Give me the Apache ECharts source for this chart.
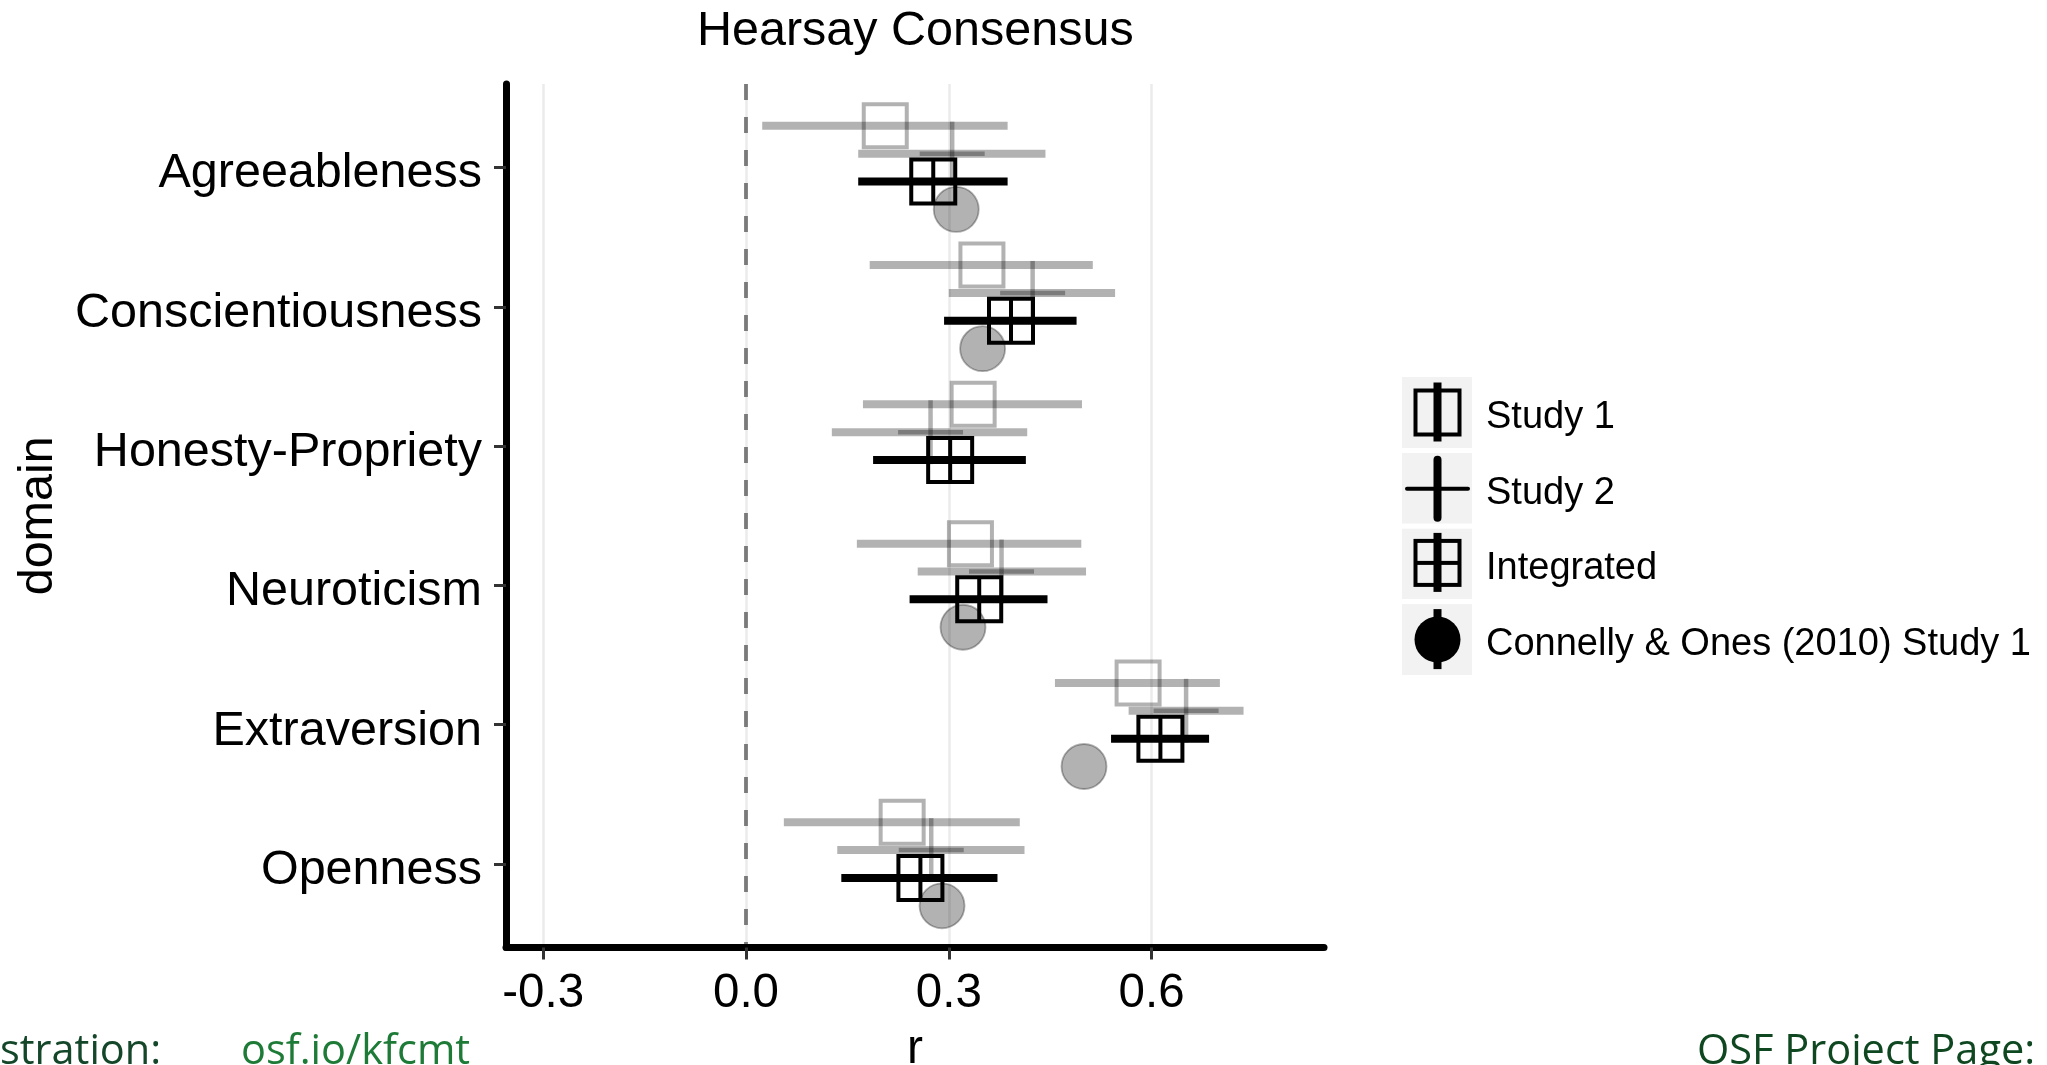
<!DOCTYPE html>
<html>
<head>
<meta charset="utf-8">
<script src="https://cdn.jsdelivr.net/npm/echarts@6/dist/echarts.min.js"></script>
<style>
html,body{margin:0;padding:0;background:#fff;}
#chart{width:2047px;height:1065px;}
</style>
</head>
<body>
<div id="chart"></div>
<script>
// ---- data ----
const domains = ['Agreeableness', 'Conscientiousness', 'Honesty-Propriety', 'Neuroticism', 'Extraversion', 'Openness'];
const study1 = [0.206, 0.349, 0.336, 0.332, 0.580, 0.231];
const study1Lo = [0.024, 0.183, 0.173, 0.164, 0.457, 0.056];
const study1Hi = [0.387, 0.513, 0.497, 0.496, 0.701, 0.405];
const study2 = [0.305, 0.424, 0.273, 0.378, 0.651, 0.274];
const study2Lo = [0.166, 0.300, 0.127, 0.254, 0.566, 0.135];
const study2Hi = [0.443, 0.546, 0.416, 0.503, 0.736, 0.412];
const integrated = [0.277, 0.392, 0.302, 0.345, 0.613, 0.258];
const integratedLo = [0.166, 0.293, 0.188, 0.242, 0.540, 0.141];
const integratedHi = [0.387, 0.489, 0.414, 0.446, 0.685, 0.372];
const connelly = [0.311, 0.350, null, 0.321, 0.500, 0.290];
const xTickValues = [-0.3, 0, 0.3, 0.6];
const seriesNames = ['Study 1', 'Study 2', 'Integrated', 'Connelly & Ones (2010) Study 1'];

// ---- styling ----
const FONT = "'Liberation Sans', Arial, Helvetica, sans-serif";
const GREY = 'rgba(0,0,0,0.3)';
const dodge = [-0.3, -0.1, 0.1, 0.3];

function rows(vals, lo, hi) {
  const out = [];
  vals.forEach((v, i) => {
    if (v === null || v === undefined) return;
    out.push([i, v, lo ? lo[i] : null, hi ? hi[i] : null]);
  });
  return out;
}

function errRect(api, y, lo, hi, color) {
  const a = api.coord([lo, y]), b = api.coord([hi, y]);
  return { type: 'rect', shape: { x: a[0], y: a[1] - 4, width: b[0] - a[0], height: 8 }, style: { fill: color } };
}

function render(kind, dy) {
  return function (params, api) {
    const y = api.value(0) + dy;
    const v = api.value(1), lo = api.value(2), hi = api.value(3);
    const p = api.coord([v, y]);
    const ch = [];
    if (kind === 'study1') {
      ch.push(errRect(api, y, lo, hi, GREY));
      ch.push({ type: 'rect', shape: { x: p[0] - 21.5, y: p[1] - 21.5, width: 43, height: 43 },
        style: { fill: 'none', stroke: GREY, lineWidth: 4 } });
    } else if (kind === 'study2') {
      ch.push(errRect(api, y, lo, hi, GREY));
      ch.push({ type: 'line', shape: { x1: p[0] - 32.5, y1: p[1], x2: p[0] + 32.5, y2: p[1] },
        style: { stroke: GREY, lineWidth: 4.5 } });
      ch.push({ type: 'line', shape: { x1: p[0], y1: p[1] - 32, x2: p[0], y2: p[1] + 32 },
        style: { stroke: GREY, lineWidth: 4.5 } });
    } else if (kind === 'integrated') {
      ch.push(errRect(api, y, lo, hi, '#000'));
      ch.push({ type: 'rect', shape: { x: p[0] - 22, y: p[1] - 22, width: 44, height: 44 },
        style: { fill: 'none', stroke: '#000', lineWidth: 4 } });
      ch.push({ type: 'line', shape: { x1: p[0], y1: p[1] - 22, x2: p[0], y2: p[1] + 22 },
        style: { stroke: '#000', lineWidth: 4 } });
      ch.push({ type: 'line', shape: { x1: p[0] - 22, y1: p[1], x2: p[0] + 22, y2: p[1] },
        style: { stroke: '#000', lineWidth: 4 } });
    } else {
      ch.push({ type: 'circle', shape: { cx: p[0], cy: p[1], r: 22.5 },
        style: { fill: GREY, stroke: GREY, lineWidth: 1.8 } });
    }
    return { type: 'group', children: ch };
  };
}

function svgIcon(body) {
  const svg = "<svg xmlns='http://www.w3.org/2000/svg' width='79' height='71' viewBox='0 0 79 71'>" +
    "<rect x='0' y='0' width='70' height='71' fill='#f2f2f2'/>" + body + "</svg>";
  return 'image://data:image/svg+xml;charset=utf-8,' + encodeURIComponent(svg);
}
const icons = [
  svgIcon("<rect x='13.5' y='13.5' width='44' height='44' fill='none' stroke='#000' stroke-width='4'/>" +
          "<rect x='31.5' y='5.5' width='8' height='59' fill='#000'/>"),
  svgIcon("<rect x='3' y='34' width='65' height='4' rx='2' fill='#000'/>" +
          "<rect x='31.5' y='3' width='8' height='66' rx='4' fill='#000'/>"),
  svgIcon("<rect x='13.5' y='12.5' width='44' height='44' fill='none' stroke='#000' stroke-width='4'/>" +
          "<rect x='13.5' y='32.5' width='44' height='4' fill='#000'/>" +
          "<rect x='31.5' y='4.5' width='8' height='59' fill='#000'/>"),
  svgIcon("<circle cx='35.5' cy='35.5' r='23' fill='#000'/>" +
          "<rect x='31.5' y='5' width='8' height='60' fill='#000'/>")
];

const chart = echarts.init(document.getElementById('chart'), null, { renderer: 'canvas' });

const option = {
  backgroundColor: '#ffffff',
  animation: false,
  textStyle: { fontFamily: FONT },
  title: {
    text: 'Hearsay Consensus',
    left: 697, top: 7, padding: 0,
    textStyle: { fontFamily: FONT, fontSize: 48.5, fontWeight: 'normal', color: '#000' }
  },
  legend: {
    orient: 'vertical',
    left: 1402, top: 377,
    padding: 0,
    itemWidth: 79, itemHeight: 71, itemGap: 4.7,
    selectedMode: false,
    formatter: name => '{t|' + name + '}',
    textStyle: { fontFamily: FONT, fontSize: 38, color: '#000',
      rich: { t: { fontFamily: FONT, fontSize: 38, color: '#000', padding: [10, 0, 0, 0] } } },
    data: seriesNames.map((n, i) => ({ name: n, icon: icons[i] }))
  },
  grid: {
    left: 506, right: 2047 - 1324, top: 84, bottom: 1065 - 947.6,
    containLabel: false, outerBoundsMode: 'none'
  },
  xAxis: {
    type: 'value', min: -0.355, max: 0.855, z: 5,
    name: 'r', nameLocation: 'middle', nameGap: 78,
    nameTextStyle: { fontFamily: FONT, fontSize: 48, color: '#000' },
    axisLine: { show: true, onZero: false, lineStyle: { color: '#000', width: 7, cap: 'round' } },
    axisTick: { show: true, length: 12, customValues: xTickValues, lineStyle: { color: '#333', width: 3 } },
    axisLabel: { customValues: xTickValues, margin: 22, fontFamily: FONT, fontSize: 47.5, color: '#000',
      formatter: v => (Math.abs(v) < 1e-9 ? 0 : v).toFixed(1) },
    splitLine: { show: false }
  },
  yAxis: {
    type: 'value', min: -0.6, max: 5.6, inverse: true, z: 5,
    name: 'domain', nameLocation: 'middle', nameRotate: 90, nameGap: 443,
    nameTextStyle: { fontFamily: FONT, fontSize: 48.5, color: '#000' },
    axisLine: { show: true, onZero: false, lineStyle: { color: '#000', width: 7, cap: 'round' } },
    axisTick: { show: true, length: 12, customValues: [0, 1, 2, 3, 4, 5], lineStyle: { color: '#333', width: 3 } },
    axisLabel: { customValues: [0, 1, 2, 3, 4, 5], margin: 24, fontFamily: FONT, fontSize: 48.5, color: '#000',
      formatter: v => '{d|' + (domains[Math.round(v)] || '') + '}',
      rich: { d: { fontFamily: FONT, fontSize: 48.5, color: '#000', padding: [13, 0, 0, 0] } } },
    splitLine: { show: false }
  },
  series: [
    {
      name: seriesNames[0], type: 'custom', renderItem: render('study1', dodge[0]),
      data: rows(study1, study1Lo, study1Hi), encode: { x: [1, 2, 3], y: 0 }, z: 2,
      markLine: {
        silent: true, symbol: 'none', z: 1, animation: false,
        label: { show: false },
        data: xTickValues.map(v => ({ xAxis: v, lineStyle: { color: '#ebebeb', width: 2.5, type: 'solid' } }))
          .concat([{ xAxis: 0, lineStyle: { color: '#7a7a7a', width: 3.8, type: [16, 17] } }])
      }
    },
    { name: seriesNames[1], type: 'custom', renderItem: render('study2', dodge[1]),
      data: rows(study2, study2Lo, study2Hi), encode: { x: [1, 2, 3], y: 0 }, z: 3 },
    { name: seriesNames[2], type: 'custom', renderItem: render('integrated', dodge[2]),
      data: rows(integrated, integratedLo, integratedHi), encode: { x: [1, 2, 3], y: 0 }, z: 4 },
    { name: seriesNames[3], type: 'custom', renderItem: render('connelly', dodge[3]),
      data: rows(connelly), encode: { x: 1, y: 0 }, z: 3 }
  ],
  graphic: [
    { type: 'text', x: 0, y: 1073, silent: true,
      style: { text: 'stration:', fontFamily: "'Open Sans', sans-serif", fontSize: 41.5, fill: '#14472a', verticalAlign: 'bottom' } },
    { type: 'text', x: 241, y: 1073, silent: true,
      style: { text: 'osf.io/kfcmt', fontFamily: "'Open Sans', sans-serif", fontSize: 41.5, fill: '#1e7b37', verticalAlign: 'bottom' } },
    { type: 'text', x: 1697, y: 1073, silent: true,
      style: { text: 'OSF Project Page:', fontFamily: "'Open Sans', sans-serif", fontSize: 41.5, fill: '#0f4720', verticalAlign: 'bottom' } }
  ]
};
chart.setOption(option);
</script>
</body>
</html>
